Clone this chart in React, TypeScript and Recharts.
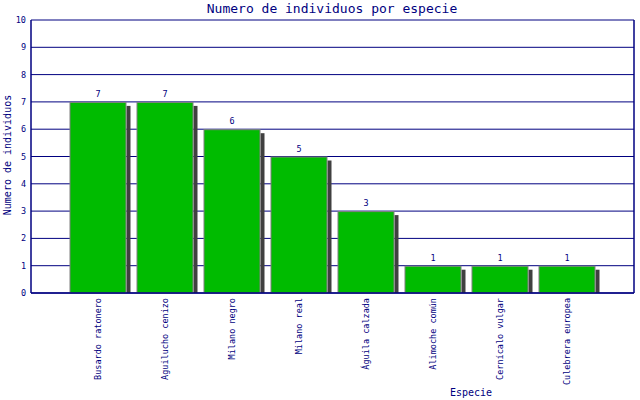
import React from "react";
import {
  BarChart,
  Bar,
  XAxis,
  YAxis,
  CartesianGrid,
  ReferenceLine,
  LabelList,
} from "recharts";

const species = [
  "Busardo ratonero",
  "Aguilucho cenizo",
  "Milano negro",
  "Milano real",
  "Águila calzada",
  "Alimoche común",
  "Cernícalo vulgar",
  "Culebrera europea",
];
const counts = [7, 7, 6, 5, 3, 1, 1, 1];
const yTicks = [0, 1, 2, 3, 4, 5, 6, 7, 8, 9, 10];

const data = species.map((name, i) => ({ pos: i + 1, name, count: counts[i] }));

const NAVY = "#000080";
const MONO = "'DejaVu Sans Mono', monospace";

const ShadowBar = (props: any) => {
  const { x, y, width, height } = props;
  if (!height) return null;
  return (
    <g>
      <rect x={x + width} y={y + 4} width={4} height={height - 4} fill="#404040" />
      <rect
        x={x + 0.5}
        y={y + 0.5}
        width={width - 1}
        height={height - 0.5}
        fill="#00bb00"
        stroke="#808080"
        strokeWidth={1}
      />
    </g>
  );
};

const XTick = (props: any) => {
  const { x, y, payload } = props;
  const label = species[payload.value - 1] || "";
  const ty = y - 3;
  return (
    <text
      x={x + 3}
      y={ty}
      transform={`rotate(-90 ${x + 3} ${ty})`}
      textAnchor="end"
      fill={NAVY}
      fontFamily={MONO}
      fontSize={8.5}
    >
      {label}
    </text>
  );
};

const YTick = (props: any) => {
  const { y, payload } = props;
  return (
    <text x={26} y={y + 3} textAnchor="end" fill={NAVY} fontFamily={MONO} fontSize={8.5}>
      {payload.value}
    </text>
  );
};

const App = () => {
  return (
    <div style={{ position: "absolute", left: 0, top: 0, width: 640, height: 400, background: "#fff" }}>
      <BarChart
        width={640}
        height={400}
        data={data}
        margin={{ top: 20, right: 6, left: 0, bottom: 0 }}
      >
        <CartesianGrid vertical={false} stroke={NAVY} strokeWidth={1} />
        <XAxis
          dataKey="pos"
          type="number"
          domain={[0, 9]}
          ticks={[1, 2, 3, 4, 5, 6, 7, 8]}
          height={107}
          tick={<XTick />}
          tickLine={false}
          axisLine={{ stroke: NAVY, strokeWidth: 1.5 }}
          interval={0}
          label={(p: any) => (
            <text x={471} y={396} textAnchor="middle" fill={NAVY} fontFamily={MONO} fontSize={10}>
              Especie
            </text>
          )}
        />
        <YAxis
          width={31}
          domain={[0, 10]}
          ticks={yTicks}
          interval={0}
          tick={<YTick />}
          tickLine={false}
          axisLine={{ stroke: NAVY, strokeWidth: 1.5 }}
          label={(p: any) => (
            <g>
              <text
                x={11}
                y={155}
                transform="rotate(-90 11 155)"
                textAnchor="middle"
                fill={NAVY}
                fontFamily={MONO}
                fontSize={10}
              >
                Numero de individuos
              </text>
              <text x={332} y={13} textAnchor="middle" fill={NAVY} fontFamily={MONO} fontSize={13}>
                Numero de individuos por especie
              </text>
            </g>
          )}
        />
        <ReferenceLine x={9} stroke={NAVY} strokeWidth={1.5} />
        <Bar dataKey="count" barSize={57} shape={<ShadowBar />} isAnimationActive={false}>
          <LabelList
            dataKey="count"
            position="top"
            offset={5}
            fill={NAVY}
            fontFamily={MONO}
            fontSize={8.5}
          />
        </Bar>
      </BarChart>
    </div>
  );
};

export default App;
